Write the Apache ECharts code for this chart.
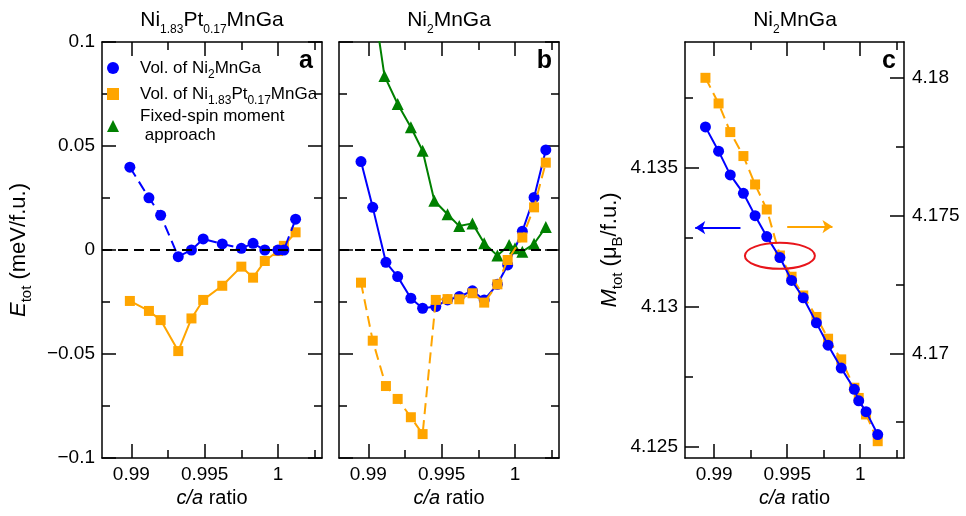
<!DOCTYPE html>
<html>
<head>
    <meta charset="utf-8">
    <title>Ni2MnGa c/a</title>
    <script src="https://cdn.jsdelivr.net/npm/echarts@6.0.0/dist/echarts.min.js"></script>
    <style>
        html, body { margin: 0; padding: 0; background: #fff; }
        #chart { width: 966px; height: 516px; }
    </style>
</head>
<body>
<div id="chart"></div>
<script type="text/javascript">
    // panel a : Ni1.83Pt0.17MnGa, energy vs c/a
    var caA      = [0.9899, 0.9912, 0.9920, 0.9932, 0.9941, 0.9949, 0.9962, 0.9975, 0.9983, 0.9991, 1.0000, 1.0004, 1.0012];
    var aVolNi2  = [0.0398, 0.0251, 0.0167, -0.0032, 0.0000, 0.0053, 0.0029, 0.0008, 0.0032, 0.0000, 0.0000, 0.0000, 0.0148];
    var aVolPt   = [-0.0245, -0.0293, -0.0337, -0.0486, -0.0329, -0.0240, -0.0172, -0.0080, -0.0133, -0.0053, -0.0005, 0.0020, 0.0085];

    // panel b : Ni2MnGa, energy vs c/a
    var caB      = [0.9895, 0.9903, 0.9912, 0.9920, 0.9929, 0.9937, 0.9946, 0.9954, 0.9962, 0.9971, 0.9979, 0.9988, 0.9995, 1.0005, 1.0013, 1.0021];
    var bVolNi2  = [0.0425, 0.0205, -0.0059, -0.0128, -0.0232, -0.0280, -0.0272, -0.0240, -0.0224, -0.0196, -0.0240, -0.0165, -0.0072, 0.0090, 0.0253, 0.0481];
    var bVolPt   = [-0.0157, -0.0436, -0.0654, -0.0716, -0.0804, -0.0885, -0.0240, -0.0236, -0.0237, -0.0208, -0.0253, -0.0165, -0.0048, 0.0060, 0.0205, 0.0420];
    var caBfs    = [0.9903, 0.9911, 0.9920, 0.9929, 0.9937, 0.9945, 0.9954, 0.9962, 0.9971, 0.9979, 0.9988, 0.9996, 1.0000, 1.0005, 1.0013, 1.0021];
    var bFixSpin = [0.1220, 0.0837, 0.0702, 0.0590, 0.0477, 0.0237, 0.0172, 0.0115, 0.0128, 0.0032, -0.0027, 0.0024, 0.0008, -0.0008, 0.0030, 0.0110];

    // panel c : Ni2MnGa, total moment vs c/a (blue = left axis, orange = right axis)
    var caC      = [0.9894, 0.9903, 0.9911, 0.9920, 0.9928, 0.9936, 0.9945, 0.9953, 0.9961, 0.9970, 0.9978, 0.9987, 0.9996, 0.9999, 1.0004, 1.0012];
    var cMomNi2  = [4.13646, 4.13559, 4.13474, 4.13408, 4.13328, 4.13253, 4.13178, 4.13096, 4.13034, 4.12944, 4.12864, 4.12782, 4.12706, 4.12665, 4.12626, 4.12544];
    var cMomPt   = [4.18000, 4.17907, 4.17803, 4.17716, 4.17613, 4.17522, 4.17355, 4.17278, 4.17210, 4.17132, 4.17053, 4.16978, 4.16875, 4.16838, 4.16778, 4.16681];

    // ticks
    var xMajor = [0.99, 0.995, 1.0];
    var xMinor = [0.9925, 0.9975, 1.0025];
    var eMajor = [-0.1, -0.05, 0, 0.05, 0.1];
    var eMinor = [-0.075, -0.025, 0.025, 0.075];
    var mLeftMajor  = [4.125, 4.13, 4.135];
    var mLeftMinor  = [4.1275, 4.1325, 4.1375];
    var mRightMajor = [4.17, 4.175, 4.18];
    var mRightMinor = [4.1675, 4.1725, 4.1775];

    var N1 = 'Vol. of Ni2MnGa';
    var N2 = 'Vol. of Ni1.83Pt0.17MnGa';
    var N3 = 'Fixed-spin moment approach';

    var FONT = '"Liberation Sans", Arial, sans-serif';
    var BLUE = '#0000ff', ORANGE = '#ffa500', GREEN = '#008000';
    var X_MIN = 0.988, X_MAX = 1.003;

    var grids = [
        {left: 102, top: 42, width: 220, height: 416},
        {left: 339, top: 42, width: 220, height: 416},
        {left: 685, top: 42, width: 219, height: 416}
    ];

    function subStyle(size, lh) {
        return {fontSize: size, verticalAlign: 'bottom', lineHeight: lh, fontFamily: FONT, color: '#000'};
    }
    function minus(v) { return String(v).replace('-', '\u2212'); }

    // one axis that only draws ticks (and optionally line / labels)
    function tickAxis(g, pos, min, max, ticks, len, showLine) {
        return {
            gridIndex: g, type: 'value', position: pos, min: min, max: max,
            axisLine: {show: showLine, onZero: false, lineStyle: {color: '#000', width: 1.5}},
            axisTick: {show: true, inside: true, length: len, customValues: ticks, lineStyle: {color: '#000', width: 1.5}},
            axisLabel: {show: false},
            splitLine: {show: false}
        };
    }

    var xAxes = [];
    for (var g = 0; g < 3; g++) {
        var bottom = tickAxis(g, 'bottom', X_MIN, X_MAX, xMajor, 14, true);
        bottom.axisLabel = {show: true, customValues: xMajor, fontSize: 19, color: '#000', fontFamily: FONT, margin: 7};
        bottom.name = '{i|c/a} ratio';
        bottom.nameLocation = 'middle';
        bottom.nameGap = 30;
        bottom.nameTextStyle = {fontSize: 20, color: '#000', fontFamily: FONT, rich: {i: {fontStyle: 'italic', fontSize: 20, fontFamily: FONT, color: '#000'}}};
        xAxes.push(bottom);
        xAxes.push(tickAxis(g, 'bottom', X_MIN, X_MAX, xMinor, 8, false));
        xAxes.push(tickAxis(g, 'top', X_MIN, X_MAX, xMajor, 14, true));
        xAxes.push(tickAxis(g, 'top', X_MIN, X_MAX, xMinor, 8, false));
    }

    var yAxes = [];
    // grid a, b : energy
    for (var k = 0; k < 2; k++) {
        var left = tickAxis(k, 'left', -0.1, 0.1, eMajor, 14, true);
        if (k === 0) {
            left.axisLabel = {show: true, customValues: eMajor, fontSize: 19, color: '#000', fontFamily: FONT, margin: 7, formatter: minus};
            left.name = '{i|E}{s|tot} (meV/f.u.)';
            left.nameLocation = 'middle';
            left.nameGap = 68;
            left.nameTextStyle = {fontSize: 22, color: '#000', fontFamily: FONT,
                rich: {i: {fontStyle: 'italic', fontSize: 22, fontFamily: FONT, color: '#000'}, s: subStyle(15, 30)}};
        }
        yAxes.push(left);
        yAxes.push(tickAxis(k, 'left', -0.1, 0.1, eMinor, 8, false));
        yAxes.push(tickAxis(k, 'right', -0.1, 0.1, eMajor, 14, true));
        yAxes.push(tickAxis(k, 'right', -0.1, 0.1, eMinor, 8, false));
    }
    // grid c : moments
    var cLeft = tickAxis(2, 'left', 4.1246, 4.1395, mLeftMajor, 14, true);
    cLeft.axisLabel = {show: true, customValues: mLeftMajor, fontSize: 19, color: '#000', fontFamily: FONT, margin: 7};
    cLeft.name = '{i|M}{s|tot} (\u03bc{s|B}/f.u.)';
    cLeft.nameLocation = 'middle';
    cLeft.nameGap = 60;
    cLeft.nameTextStyle = {fontSize: 22, color: '#000', fontFamily: FONT,
        rich: {i: {fontStyle: 'italic', fontSize: 22, fontFamily: FONT, color: '#000'}, s: subStyle(15, 30)}};
    yAxes.push(cLeft);
    yAxes.push(tickAxis(2, 'left', 4.1246, 4.1395, mLeftMinor, 8, false));
    var cRight = tickAxis(2, 'right', 4.1662, 4.1813, mRightMajor, 14, true);
    cRight.axisLabel = {show: true, customValues: mRightMajor, fontSize: 19, color: '#000', fontFamily: FONT, margin: 8};
    yAxes.push(cRight);
    yAxes.push(tickAxis(2, 'right', 4.1662, 4.1813, mRightMinor, 8, false));

    function pts(xs, ys) {
        return xs.map(function (x, i) { return [x, ys[i]]; });
    }

    var zeroLine = {
        silent: true, symbol: 'none', animation: false,
        label: {show: false},
        lineStyle: {color: '#000', type: [10, 6], width: 2},
        data: [{yAxis: 0}]
    };

    function lineSeries(name, xi, yi, data, color, symbol, size, dashed, z) {
        return {
            name: name, type: 'line', xAxisIndex: xi, yAxisIndex: yi, data: data,
            symbol: symbol, symbolSize: size, z: z,
            itemStyle: {color: color},
            lineStyle: {color: color, width: 2, type: dashed ? [11, 6] : 'solid'},
            clip: true
        };
    }

    var sAOrange = lineSeries(N2, 0, 0, pts(caA, aVolPt), ORANGE, 'rect', 10, false, 3);
    sAOrange.markLine = zeroLine;
    var sBBlue = lineSeries(N1, 4, 4, pts(caB, bVolNi2), BLUE, 'circle', 11, false, 3);
    sBBlue.markLine = zeroLine;
    var sCBlue = lineSeries(N1, 8, 8, pts(caC, cMomNi2), BLUE, 'circle', 11, false, 5);
    sCBlue.markLine = {
        silent: true, symbol: ['none', 'arrow'], symbolSize: 10, animation: false,
        label: {show: false}, lineStyle: {color: BLUE, width: 2, type: 'solid'},
        data: [[{coord: [0.9918, 4.13285]}, {coord: [0.9887, 4.13285]}]]
    };
    var sCOrange = lineSeries(N2, 8, 10, pts(caC, cMomPt), ORANGE, 'rect', 10, true, 4);
    sCOrange.markLine = {
        silent: true, symbol: ['none', 'arrow'], symbolSize: 10, animation: false,
        label: {show: false}, lineStyle: {color: ORANGE, width: 2, type: 'solid'},
        data: [[{coord: [0.9950, 4.1746]}, {coord: [0.9981, 4.1746]}]]
    };

    var series = [
        sAOrange,
        lineSeries(N1, 0, 0, pts(caA, aVolNi2), BLUE, 'circle', 11, true, 4),
        sBBlue,
        lineSeries(N3, 4, 4, pts(caBfs, bFixSpin), GREEN, 'triangle', 12, false, 4),
        lineSeries(N2, 4, 4, pts(caB, bVolPt), ORANGE, 'rect', 10, true, 5),
        sCOrange,
        sCBlue
    ];

    var legendText = {};
    legendText[N1] = '{g| }Vol. of Ni{s|2}MnGa';
    legendText[N2] = '{g| }Vol. of Ni{s|1.83}Pt{s|0.17}MnGa';
    legendText[N3] = '{g| }Fixed-spin moment\n{g| } approach';

    var titleRich = {s: subStyle(12, 32)};
    function panelTitle(x, text) {
        return {type: 'text', x: x, y: 20, silent: true,
            style: {text: text, fontSize: 21, fontFamily: FONT, fill: '#000', align: 'center', verticalAlign: 'middle', rich: titleRich}};
    }
    function panelLetter(x, text) {
        return {type: 'text', x: x, y: 74, silent: true,
            style: {text: text, fontSize: 25, fontWeight: 'bold', fontFamily: FONT, fill: '#000', align: 'right', verticalAlign: 'bottom'}};
    }

    var myChart = echarts.init(document.getElementById('chart'));
    myChart.setOption({
        animation: false,
        backgroundColor: '#fff',
        textStyle: {fontFamily: FONT},
        grid: grids,
        xAxis: xAxes,
        yAxis: yAxes,
        legend: {
            left: 107, top: 55, orient: 'vertical', itemGap: 0, padding: 0,
            itemWidth: 12, itemHeight: 12, selectedMode: false,
            data: [{name: N1, icon: 'circle'}, {name: N2, icon: 'rect'}, {name: N3, icon: 'triangle'}],
            formatter: function (name) { return legendText[name]; },
            textStyle: {fontSize: 17, color: '#000', fontFamily: FONT, lineHeight: 19,
                rich: {g: {width: 16}, s: subStyle(12, 26)}}
        },
        graphic: [
            panelTitle(212, 'Ni{s|1.83}Pt{s|0.17}MnGa'),
            panelTitle(449, 'Ni{s|2}MnGa'),
            panelTitle(795, 'Ni{s|2}MnGa'),
            panelLetter(313, 'a'),
            panelLetter(552, 'b'),
            panelLetter(896, 'c')
        ],
        series: series
    });

    // red ring marking the crossing in panel c
    var ringCenter = myChart.convertToPixel({xAxisIndex: 8, yAxisIndex: 8}, [0.9945, 4.13184]);
    myChart.setOption({
        graphic: [{
            id: 'ring', type: 'ellipse', silent: true, z: 10,
            shape: {cx: ringCenter[0], cy: ringCenter[1], rx: 35, ry: 13},
            style: {fill: 'none', stroke: '#e8151b', lineWidth: 2}
        }]
    });
</script>
</body>
</html>
